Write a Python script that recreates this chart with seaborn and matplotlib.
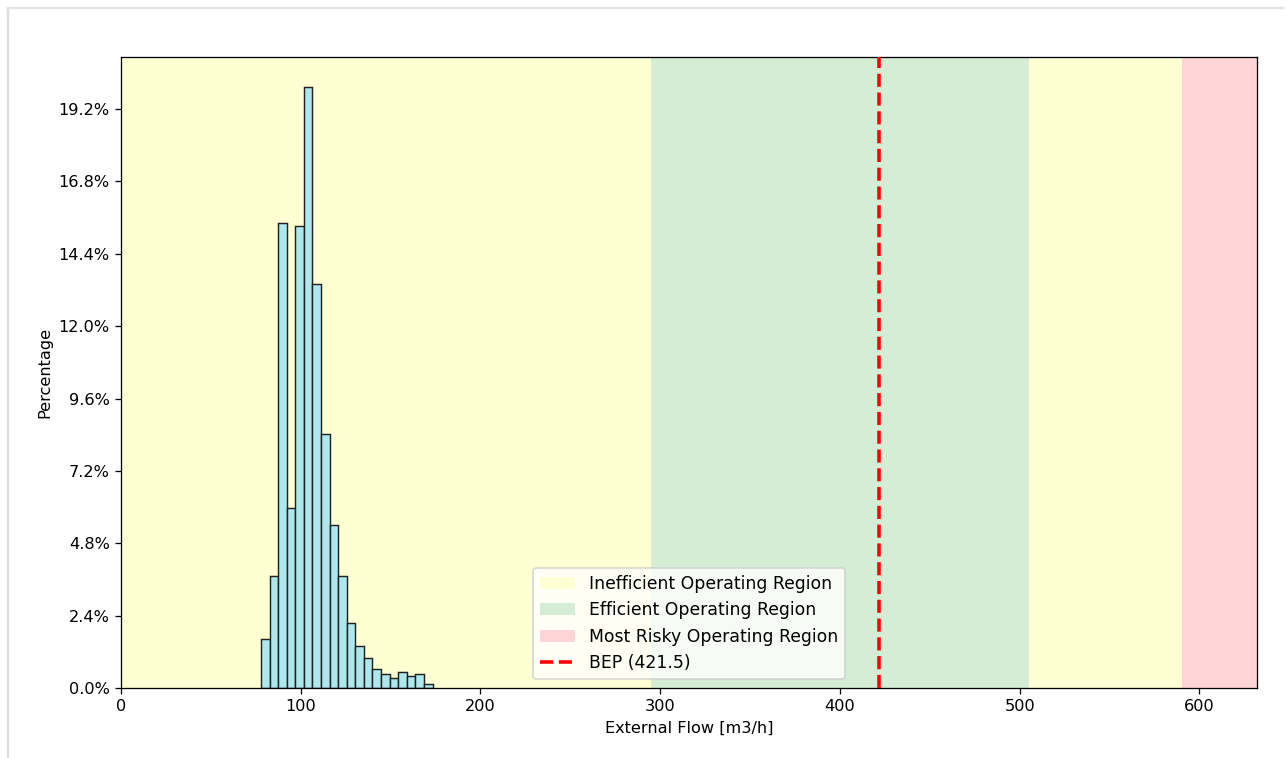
import numpy as np
import pandas as pd
import matplotlib
matplotlib.use("Agg")
import matplotlib.pyplot as plt
from matplotlib.ticker import PercentFormatter
from matplotlib.lines import Line2D
import seaborn as sns

# Histogram of external flow: bin edges and share of samples per bin (%)
bin_start = 77.9
bin_width = 4.77
bin_pct = [1.63, 3.73, 15.42, 5.97, 15.32, 19.93, 13.41, 8.44, 5.40, 3.73,
           2.16, 1.40, 1.00, 0.63, 0.45, 0.33, 0.53, 0.39, 0.47, 0.12]

# Operating regions along the flow axis [m3/h]
region_names = ["Inefficient Operating Region", "Efficient Operating Region",
                "Inefficient Operating Region", "Most Risky Operating Region"]
region_bounds = [(0, 295.0), (295.0, 505.0), (505.0, 590.0), (590.0, 632.0)]
region_colors = ["#ffffd4", "#d4edd4", "#ffffd4", "#ffd4d4"]
bep_flow = 421.5
flow_max = 632.0
y_ticks = [0.0, 2.4, 4.8, 7.2, 9.6, 12.0, 14.4, 16.8, 19.2]

n_bins = len(bin_pct)
edges = [float(bin_start + bin_width * i) for i in range(n_bins + 1)]
centers = [(edges[i] + edges[i + 1]) / 2 for i in range(n_bins)]
df = pd.DataFrame({"flow": centers, "pct": bin_pct})

dpi = 116
fig = plt.figure(figsize=(1287 / dpi, 758 / dpi), dpi=dpi)
ax = fig.add_axes([121 / 1287, 1 - 688 / 758, (1257 - 121) / 1287, (688 - 57) / 758])

seen = set()
for name, (lo, hi), col in zip(region_names, region_bounds, region_colors):
    lbl = name if name not in seen else None
    seen.add(name)
    ax.axvspan(lo, hi, color=col, label=lbl, zorder=0, lw=0)

sns.histplot(data=df, x="flow", weights="pct", bins=edges, ax=ax,
             color="#aee8ee", alpha=1.0, edgecolor="#222222", linewidth=0.9,
             zorder=2)

ax.axvline(bep_flow, color="red", linestyle="--", linewidth=2.2,
           label=f"BEP ({bep_flow})", zorder=3)

ax.set_xlim(0, flow_max)
ax.set_ylim(0, max(bin_pct) * 1.05)
ax.set_yticks(y_ticks)
ax.yaxis.set_major_formatter(PercentFormatter(xmax=100, decimals=1))
ax.set_xticks([0, 100, 200, 300, 400, 500, 600])
ax.set_xlabel("External Flow [m3/h]")
ax.set_ylabel("Percentage")

handles, labels = ax.get_legend_handles_labels()
order = ["Inefficient Operating Region", "Efficient Operating Region",
         "Most Risky Operating Region", f"BEP ({bep_flow})"]
hmap = dict(zip(labels, handles))
ax.legend([hmap[k] for k in order], order, loc="lower center", fontsize=10.7)

# light card edge around the figure
fig.add_artist(Line2D([8 / 1287, 8 / 1287], [0, 1 - 8 / 758],
                      transform=fig.transFigure, color="#dddddd", lw=1.5))
fig.add_artist(Line2D([8 / 1287, 1 - 4 / 1287], [1 - 8 / 758, 1 - 8 / 758],
                      transform=fig.transFigure, color="#e4e4e4", lw=1.5))

fig.savefig("out.png", dpi=dpi)
